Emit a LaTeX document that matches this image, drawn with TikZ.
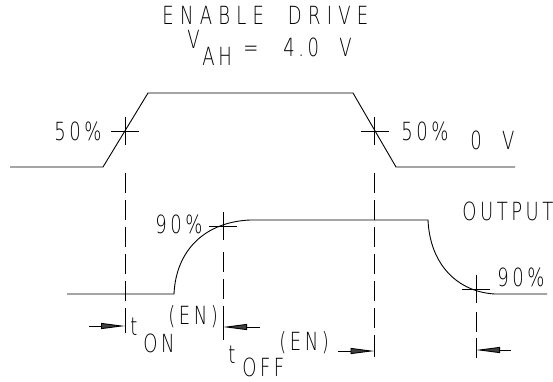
\documentclass[tikz,border=0pt]{standalone}
\usepackage{fontspec}
\usepackage{tikz}
\usetikzlibrary{arrows.meta}
\newfontfamily\cadfont{DejaVu Sans ExtraLight}[FakeStretch=0.72,LetterSpace=14,WordSpace=2.2]
\newfontfamily\cadtitlefont{DejaVu Sans ExtraLight}[FakeStretch=0.72,LetterSpace=25,WordSpace=2]

\begin{document}
\begin{tikzpicture}[x=1pt,y=-1pt,line width=0.9pt,
        lbl/.style={font={\cadfont\fontsize{25}{28}\selectfont}, inner sep=0pt, anchor=base west},
        dimline/.style={dash pattern=on 20pt off 7pt},
        dimarrow/.style={-{Triangle[length=24pt,width=6pt,fill=darkgray]}}]
        \useasboundingbox (0,0) rectangle (553,381);

        %title
        \node[lbl, font={\cadtitlefont\fontsize{25}{28}\selectfont}] (title) at (162,24) {ENABLE DRIVE};
        \node[lbl, text height=12pt] (vsym) at (187,48) {V};
        \node[lbl] (vsub) at (202,65) {AH};
        \node[lbl] (veq) at (243,56) {=};
        \node[lbl] (vval) at (283,56) {4.0 V};

        %enable drive
        \coordinate (e0) at (10,167);
        \coordinate (e1) at (103,167);
        \coordinate (e2) at (148,93);
        \coordinate (e3) at (353,93);
        \coordinate (e4) at (396,167);
        \coordinate (e5) at (515,167);
        \draw (e0) -- (e1) -- (e2) -- (e3) -- (e4) -- (e5);

        \coordinate (r50) at (125,131);
        \coordinate (f50) at (374.5,131);
        \draw (r50) +(-14,0) -- +(14,0) +(0,-14) -- +(0,14);
        \draw (f50) +(-14,0) -- +(14,0) +(0,-14) -- +(0,14);
        \node[lbl] (l50a) at (54,140) {50\%};
        \node[lbl] (l50b) at (401,140) {50\%};
        \node[lbl] (lzero) at (470,149) {0 V};

        %output
        \coordinate (o0) at (67,294);
        \coordinate (o1) at (174,294);
        \coordinate (o2) at (250,220);
        \coordinate (o3) at (428,220);
        \coordinate (o4) at (495,294);
        \coordinate (o5) at (547,294);
        \draw (o0) -- (o1) .. controls (176,250) and (205,222) .. (o2) -- (o3)
            .. controls (430,265) and (458,292) .. (o4) -- (o5);

        \coordinate (on90) at (223,226);
        \coordinate (off90) at (476,289);
        \draw (on90) +(-14,0) -- +(14,0) +(0,-14) -- +(0,14);
        \draw (off90) +(-14,0) -- +(14,0) +(0,-14) -- +(0,14);
        \node[lbl] (l90a) at (155,233) {90\%};
        \node[lbl] (l90b) at (497,286) {90\%};
        \node[lbl] (lout) at (462,220) {OUTPUT};

        %dashed marks
        \coordinate (d1t) at (125,173);
        \coordinate (d1b) at (125,310);
        \coordinate (d1e) at (125,333);
        \coordinate (d2t) at (223,252);
        \coordinate (d2b) at (223,310);
        \coordinate (d2e) at (223,340);
        \coordinate (d3t) at (374.5,173);
        \coordinate (d3b) at (374.5,338);
        \coordinate (d3e) at (374.5,357);
        \coordinate (d4t) at (476,312);
        \coordinate (d4b) at (476,338);
        \coordinate (d4e) at (476,358);
        \draw[dimline] (d1t) -- (d1b);
        \draw[dimline] (d2t) -- (d2b);
        \draw[dimline] (d3t) -- (d3b);
        \draw[dimline] (d4t) -- (d4b);
        \draw (d1b) -- (d1e);
        \draw (d2b) -- (d2e);
        \draw (d3b) -- (d3e);
        \draw (d4b) -- (d4e);

        %arrows
        \coordinate (a1s) at (89,326);
        \coordinate (a1e) at (125,326);
        \coordinate (a2s) at (260,327);
        \coordinate (a2e) at (223,327);
        \coordinate (a3s) at (338,351);
        \coordinate (a3e) at (374.5,351);
        \coordinate (a4s) at (511,350);
        \coordinate (a4e) at (476,350);
        \draw[dimarrow] (a1s) -- (a1e);
        \draw[dimarrow] (a2s) -- (a2e);
        \draw[dimarrow] (a3s) -- (a3e);
        \draw[dimarrow] (a4s) -- (a4e);

        %timing labels
        \node[lbl] (ton) at (130,335) {t};
        \node[lbl] (tonsub) at (143,352) {ON};
        \node[lbl] (tonen) at (168,324) {(EN)};
        \node[lbl] (toff) at (228,363) {t};
        \node[lbl] (toffsub) at (242,376) {OFF};
        \node[lbl] (toffen) at (279,350) {(EN)};
    \end{tikzpicture}
\end{document}
